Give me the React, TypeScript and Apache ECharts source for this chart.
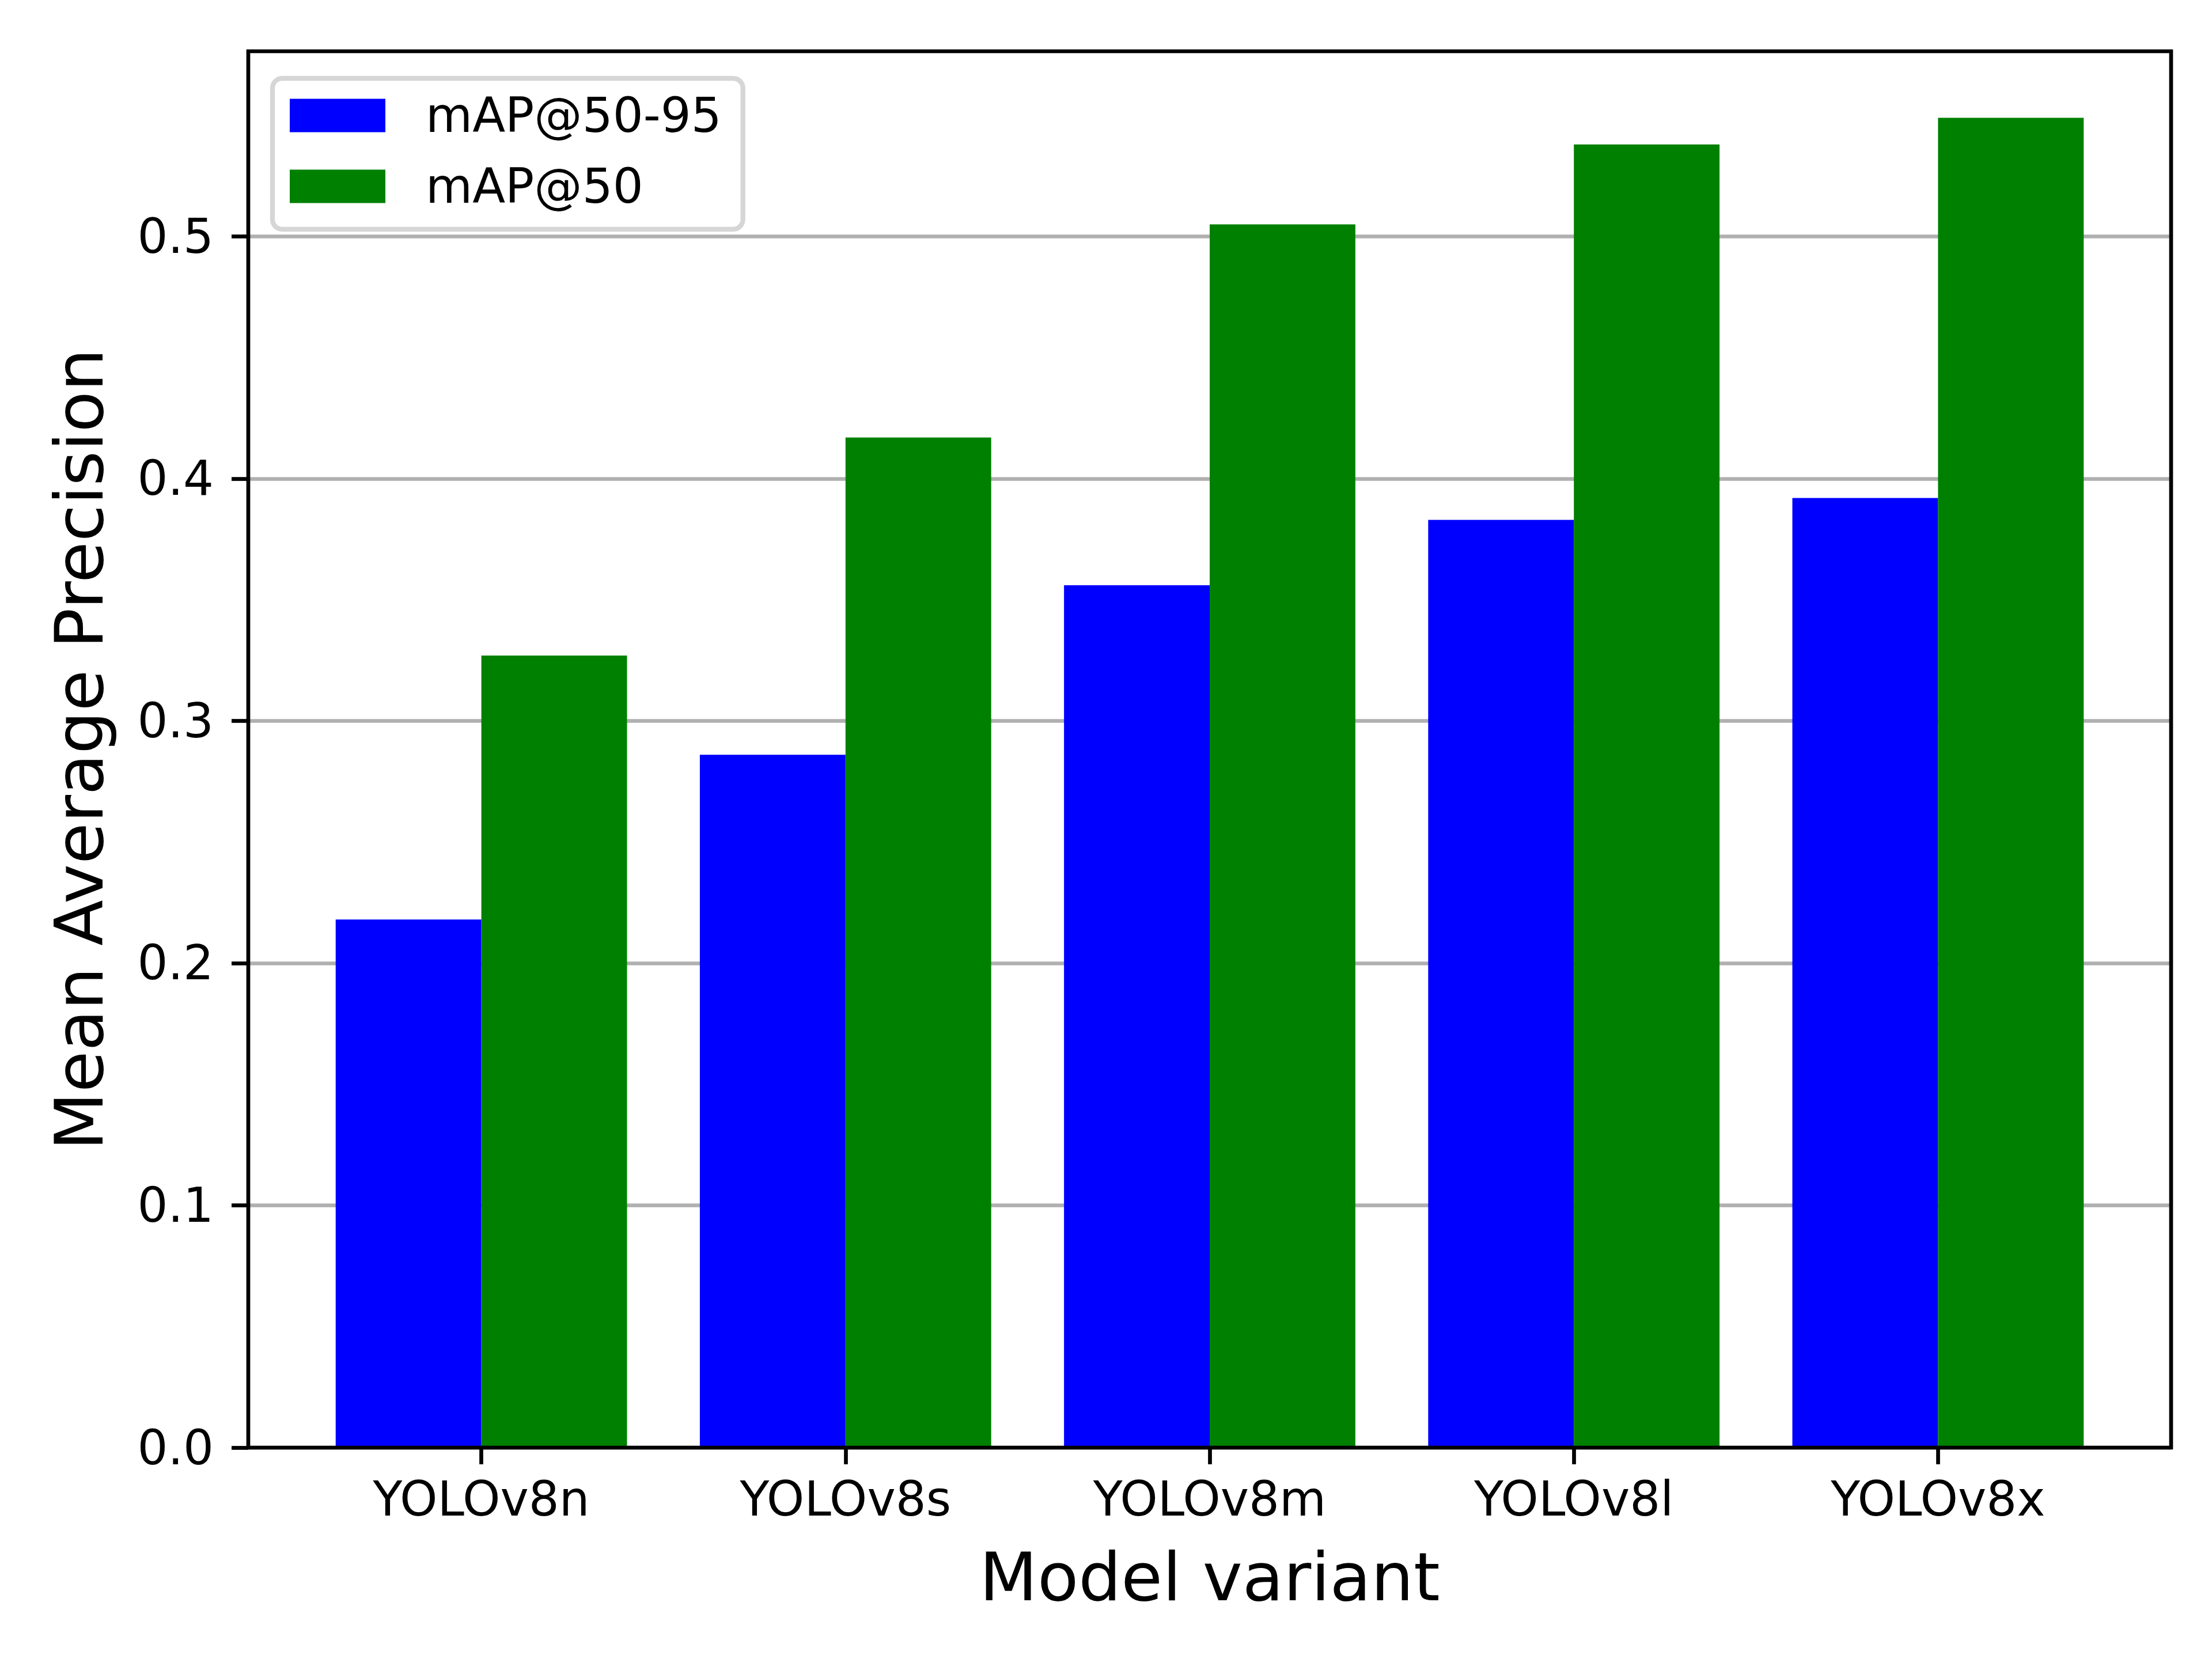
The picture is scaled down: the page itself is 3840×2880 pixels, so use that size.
import React, { useEffect, useRef } from "react";
import * as echarts from "echarts";

const categories = ["YOLOv8n", "YOLOv8s", "YOLOv8m", "YOLOv8l", "YOLOv8x"];
const map5095 = [0.218, 0.286, 0.356, 0.383, 0.392];
const map50 = [0.327, 0.417, 0.505, 0.538, 0.549];
const yTicks = [0, 0.1, 0.2, 0.3, 0.4, 0.5];
const seriesNames = ["mAP@50-95", "mAP@50"];

const FONT = "DejaVu Sans";
const W = 3840;
const H = 2880;
const PLOT_L = 431;
const PLOT_T = 89;
const PLOT_W = 3338;
const PLOT_H = 2424;
// matplotlib-like x margins: data spans [-0.4, n-1+0.4], 5% margin each side
const N = categories.length;
const X_SPAN = N - 1 + 0.8;
const X_RANGE = X_SPAN * 1.1;
const UNIT = PLOT_W / X_RANGE;
const INNER_L = PLOT_L + (X_SPAN * 0.05 + 0.4 - 0.5) * UNIT;
const INNER_W = N * UNIT;
const Y_MAX = Math.max(...map50) * 1.05;
const LW = 6.7;

export default function App() {
  const ref = useRef<HTMLDivElement>(null);
  useEffect(() => {
    if (!ref.current) return;
    const chart = echarts.init(ref.current, null, { renderer: "svg", width: W, height: H });
    chart.setOption({
      animation: false,
      backgroundColor: "#ffffff",
      textStyle: { fontFamily: FONT },
      grid: [
        { left: PLOT_L, top: PLOT_T, width: PLOT_W, height: PLOT_H, containLabel: false, outerBoundsMode: "none" },
        { left: INNER_L, top: PLOT_T, width: INNER_W, height: PLOT_H, containLabel: false, outerBoundsMode: "none" },
      ],
      xAxis: [
        { gridIndex: 0, type: "value", min: 0, max: 1, show: false },
        {
          gridIndex: 1,
          type: "category",
          data: categories,
          boundaryGap: true,
          axisLine: { show: false },
          axisTick: { show: true, alignWithLabel: true, length: 29, lineStyle: { color: "#000", width: LW } },
          axisLabel: { fontSize: 83.3, color: "#000", margin: 48, fontFamily: FONT },
          splitLine: { show: false },
          name: "Model variant",
          nameLocation: "middle",
          nameGap: 166,
          nameTextStyle: { fontSize: 116.7, color: "#000", fontFamily: FONT },
        },
      ],
      yAxis: [
        {
          gridIndex: 0,
          type: "value",
          min: 0,
          max: Y_MAX,
          axisLine: { show: false },
          axisTick: { show: true, length: 29, customValues: yTicks, lineStyle: { color: "#000", width: LW } },
          axisLabel: {
            customValues: yTicks,
            fontSize: 83.3,
            color: "#000",
            margin: 60,
            fontFamily: FONT,
            formatter: (v: number) => v.toFixed(1),
          },
          splitLine: { show: true, lineStyle: { color: "#b0b0b0", width: LW } },
          name: "Mean Average Precision",
          nameLocation: "middle",
          nameGap: 235,
          nameTextStyle: { fontSize: 116.7, color: "#000", fontFamily: FONT },
        },
        { gridIndex: 1, type: "value", min: 0, max: Y_MAX, show: false, splitLine: { show: false } },
      ],
      legend: {
        orient: "vertical",
        left: 473,
        top: 136,
        padding: [23, 37, 33, 30],
        itemWidth: 166,
        itemHeight: 58,
        itemGap: 40,
        icon: "rect",
        selectedMode: false,
        borderColor: "#d6d6d6",
        borderWidth: 8.3,
        borderRadius: 17,
        backgroundColor: "#ffffff",
        textStyle: { fontSize: 83.3, color: "#000", fontFamily: FONT, lineHeight: 58, padding: [0, 0, 0, 65] },
        data: seriesNames,
      },
      graphic: [
        {
          type: "rect",
          z: 100,
          silent: true,
          shape: { x: PLOT_L, y: PLOT_T, width: PLOT_W, height: PLOT_H },
          style: { fill: "none", stroke: "#000", lineWidth: LW },
        },
      ],
      series: [
        {
          name: seriesNames[0],
          type: "bar",
          xAxisIndex: 1,
          yAxisIndex: 1,
          data: map5095,
          barWidth: "40%",
          barGap: "0%",
          itemStyle: { color: "#0000ff" },
        },
        {
          name: seriesNames[1],
          type: "bar",
          xAxisIndex: 1,
          yAxisIndex: 1,
          data: map50,
          barWidth: "40%",
          barGap: "0%",
          itemStyle: { color: "#008000" },
        },
      ],
    });
    return () => chart.dispose();
  }, []);
  return (
    <div
      ref={ref}
      style={{ position: "fixed", left: 0, top: 0, width: W, height: H, background: "#fff" }}
    />
  );
}
